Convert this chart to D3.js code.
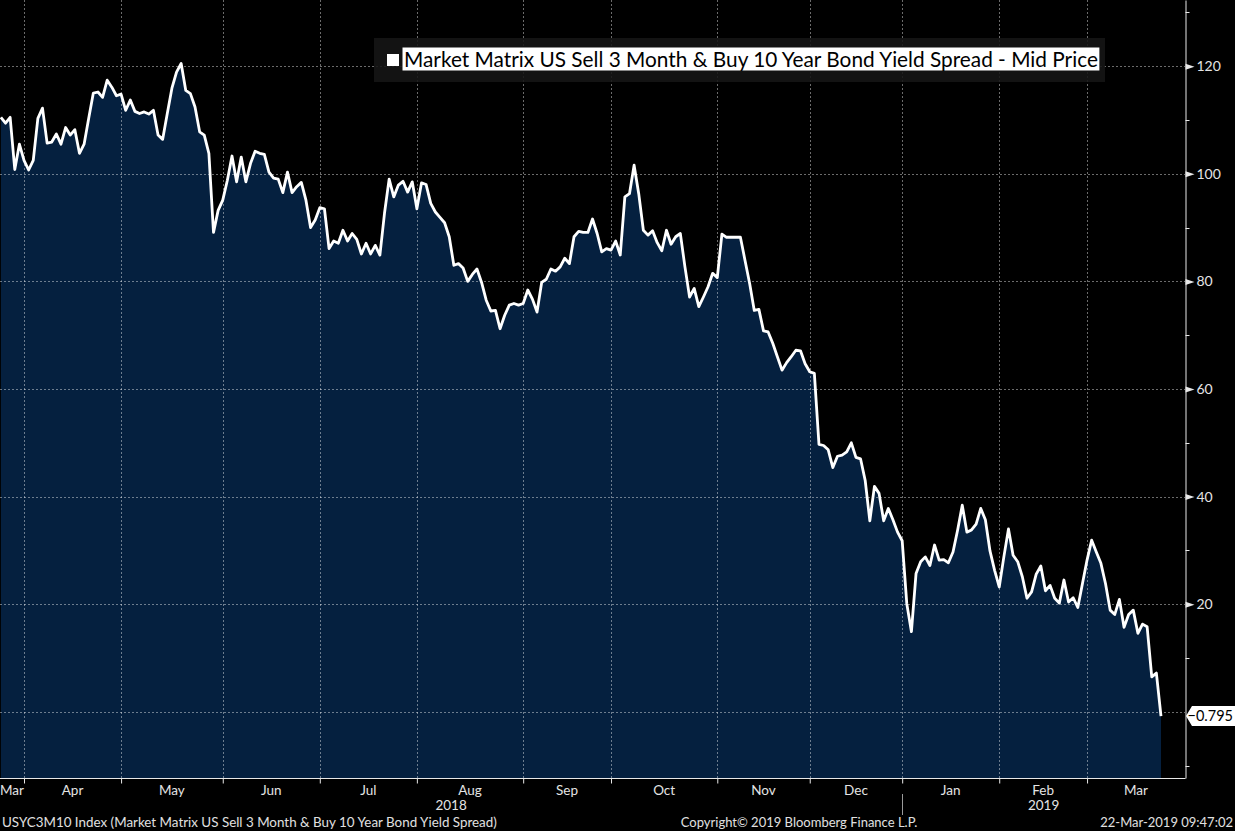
<!DOCTYPE html>
<html>
<head>
<meta charset="utf-8">
<script src="https://cdn.jsdelivr.net/npm/d3@7"></script>
<style>
  html, body { margin: 0; padding: 0; background: #000; }
  svg { display: block; }
  text { font-family: Lato, "DejaVu Sans", sans-serif; }
</style>
</head>
<body>
<svg width="1235" height="831"></svg>
<script>
// USYC3M10 daily closes, 22-Mar-2018 .. 22-Mar-2019 (bp)
const spread = [
  110.5, 109.4, 110.5, 100.8, 105.5, 102.5, 100.7, 102.5, 110.3, 112.2,
  105.7, 105.9, 107.4, 105.5, 108.6, 107.2, 108.2, 103.8, 105.5, 110.3,
  115.0, 115.2, 114.2, 117.4, 116.1, 114.5, 114.8, 111.8, 113.7, 111.6,
  111.2, 111.5, 111.1, 111.8, 107.2, 106.4, 111.2, 115.9, 118.9, 120.5,
  115.5, 114.9, 112.4, 107.8, 107.2, 103.8, 89.1, 93.2, 95.1, 98.8,
  103.3, 98.5, 103.1, 98.5, 101.9, 104.2, 103.8, 103.6, 100.3, 99.2,
  99.0, 96.5, 100.3, 96.5, 97.6, 98.4, 95.1, 90.0, 91.4, 93.7,
  93.5, 86.1, 87.5, 87.1, 89.5, 87.5, 88.9, 87.8, 85.1, 87.1,
  85.1, 86.7, 84.9, 92.7, 99.0, 95.7, 97.9, 98.6, 96.6, 98.5,
  93.5, 98.3, 98.0, 94.5, 92.9, 91.9, 90.9, 88.3, 83.0, 83.3,
  82.5, 80.0, 81.3, 82.3, 79.8, 76.5, 74.5, 74.6, 71.2, 73.7,
  75.6, 75.9, 75.6, 75.9, 78.4, 76.7, 74.3, 79.8, 80.4, 82.3,
  81.9, 82.7, 84.3, 83.3, 88.3, 89.3, 89.1, 89.1, 91.6, 88.9,
  85.5, 86.1, 85.8, 87.5, 84.9, 95.7, 96.3, 101.6, 96.3, 89.5,
  88.6, 89.4, 87.2, 85.7, 89.5, 86.9, 88.3, 88.9, 82.7, 77.1,
  78.7, 75.3, 77.1, 79.0, 81.5, 80.7, 88.8, 88.2, 88.2, 88.2,
  88.2, 83.9, 79.6, 74.6, 74.8, 70.8, 70.6, 68.5, 66.0, 63.5,
  64.9, 66.0, 67.2, 67.1, 64.7, 63.2, 62.9, 49.7, 49.5, 48.7,
  45.4, 47.5, 47.7, 48.3, 50.0, 47.3, 47.0, 43.0, 35.5, 41.9,
  40.6, 35.5, 37.8, 35.7, 33.4, 31.8, 20.1, 14.9, 25.7, 27.9,
  28.8, 27.2, 31.0, 28.2, 28.3, 27.7, 29.7, 33.8, 38.4, 33.4,
  33.8, 34.9, 37.8, 35.7, 29.9, 26.3, 23.2, 28.8, 34.0, 29.1,
  27.9, 25.1, 21.1, 22.3, 25.6, 27.1, 22.5, 23.5, 21.1, 20.2,
  24.5, 20.4, 21.2, 19.4, 23.8, 28.2, 31.9, 29.7, 27.6, 23.8,
  18.9, 18.1, 20.9, 15.7, 18.1, 18.9, 14.6, 16.3, 15.8, 6.5,
  7.2, -0.795
]

// first trading day of each month (index into spread)
const monthLabels = ["Mar", "Apr", "May", "Jun", "Jul", "Aug", "Sep", "Oct", "Nov", "Dec", "Jan", "Feb", "Mar"]
const monthStarts = [0, 5, 26, 48, 69, 90, 113, 132, 155, 175, 195, 216, 235]

const yearLabels = ["2018", "2019"]
const yearStarts = [0, 195]

const yMajor = [0, 20, 40, 60, 80, 100, 120]
const yMinor = [-10, 10, 30, 50, 70, 90, 110, 130]

const legendText = "Market Matrix US Sell 3 Month & Buy 10 Year Bond Yield Spread - Mid Price"
const footLeft = "USYC3M10 Index (Market Matrix US Sell 3 Month & Buy 10 Year Bond Yield Spread)"
const footMid = "Copyright\u00A9 2019 Bloomberg Finance L.P."
const footRight = "22-Mar-2019 09:47:02"

const width = 1235
const height = 831
const plotRight = 1185
const plotBottom = 778

const svg = d3.select("svg")

const x = d3.scaleLinear()
  .domain([0, spread.length - 1])
  .range([0.9, 1161])

const y = d3.scaleLinear()
  .domain([-12.3, 132.3])
  .range([plotBottom, 0])

// area under the curve
const area = d3.area()
  .x((d, i) => x(i))
  .y0(plotBottom)
  .y1(d => y(d))

svg.append("path")
  .datum(spread)
  .attr("d", area)
  .attr("fill", "#05203f")

// grid
const grid = svg.append("g")
  .attr("stroke", "#ffffff")
  .attr("stroke-opacity", 0.42)
  .attr("stroke-width", 1)
  .attr("stroke-dasharray", "2,2")

grid.selectAll(".hg")
  .data(yMajor)
  .enter()
  .append("line")
    .attr("x1", 0)
    .attr("x2", plotRight)
    .attr("y1", d => Math.round(y(d)) + 0.5)
    .attr("y2", d => Math.round(y(d)) + 0.5)

grid.selectAll(".vg")
  .data(monthStarts.slice(1))
  .enter()
  .append("line")
    .attr("x1", d => Math.round(x(d)) + 0.5)
    .attr("x2", d => Math.round(x(d)) + 0.5)
    .attr("y1", 0)
    .attr("y2", plotBottom)

// the line
const line = d3.line()
  .x((d, i) => x(i))
  .y(d => y(d))

svg.append("path")
  .datum(spread)
  .attr("d", line)
  .attr("fill", "none")
  .attr("stroke", "#ffffff")
  .attr("stroke-width", 2.8)
  .attr("stroke-linejoin", "round")

// right axis
const yAxis = svg.append("g")
  .attr("transform", `translate(${plotRight + 0.5},0)`)
  .call(d3.axisRight(y)
    .tickValues(yMajor.filter(d => d > 0))
    .tickSize(0)
    .tickSizeOuter(0)
    .tickPadding(11)
    .tickFormat(d3.format("d")))

yAxis.select(".domain").attr("stroke", "#e8e8e8")
yAxis.selectAll(".tick text")
  .attr("fill", "#e4e4e4")
  .style("font-size", "14px")

yAxis.selectAll(".tick")
  .append("path")
    .attr("d", "M0,-3L9,0L0,3Z")
    .attr("fill", "#e8e8e8")

yAxis.selectAll(".minor")
  .data(yMinor)
  .enter()
  .append("line")
    .attr("x1", 0)
    .attr("x2", 4)
    .attr("y1", d => Math.round(y(d)) + 0.5)
    .attr("y2", d => Math.round(y(d)) + 0.5)
    .attr("stroke", "#e8e8e8")

// bottom axis
const xAxis = svg.append("g")
  .attr("transform", `translate(0,${plotBottom + 0.5})`)
  .call(d3.axisBottom(x)
    .tickValues(monthStarts.slice(1))
    .tickSize(5)
    .tickSizeOuter(0)
    .tickFormat(""))

xAxis.select(".domain").attr("d", `M0,0H${plotRight + 0.5}`).attr("stroke", "#e8e8e8")
xAxis.selectAll(".tick line").attr("stroke", "#e8e8e8")

const monthEdges = monthStarts.map((d, i) => i === 0 ? 0 : x(d)).concat([plotRight])

svg.append("g")
  .selectAll("text")
  .data(monthLabels)
  .enter()
  .append("text")
    .attr("x", (d, i) => (monthEdges[i] + monthEdges[i + 1]) / 2)
    .attr("y", 795)
    .attr("text-anchor", "middle")
    .attr("fill", "#e4e4e4")
    .style("font-size", "13.5px")
    .text(d => d)

const yearEdges = yearStarts.map((d, i) => i === 0 ? 0 : x(d)).concat([plotRight])

svg.append("g")
  .selectAll("text")
  .data(yearLabels)
  .enter()
  .append("text")
    .attr("x", (d, i) => (yearEdges[i] + yearEdges[i + 1]) / 2)
    .attr("y", 810)
    .attr("text-anchor", "middle")
    .attr("fill", "#e4e4e4")
    .style("font-size", "13.5px")
    .text(d => d)

// year separator
svg.append("line")
  .attr("x1", Math.round(x(yearStarts[1])) + 0.5)
  .attr("x2", Math.round(x(yearStarts[1])) + 0.5)
  .attr("y1", 794)
  .attr("y2", 815)
  .attr("stroke", "#9a9a9a")

// legend
const legend = svg.append("g")

legend.append("rect")
  .attr("x", 374)
  .attr("y", 38)
  .attr("width", 731)
  .attr("height", 44)
  .attr("fill", "#161616")
  .attr("fill-opacity", 0.88)

legend.append("rect")
  .attr("x", 387)
  .attr("y", 54)
  .attr("width", 12)
  .attr("height", 12)
  .attr("fill", "#ffffff")

const highlight = legend.append("rect")
  .attr("fill", "#ffffff")

const legendLabel = legend.append("text")
  .attr("x", 404)
  .attr("y", 67)
  .attr("fill", "#000000")
  .style("font-size", "20.8px")
  .text(legendText)

const bb = legendLabel.node().getBBox()
highlight
  .attr("x", 402.5)
  .attr("y", 47.5)
  .attr("width", bb.width + 3)
  .attr("height", 23)

// last value tag
const last = spread[spread.length - 1]
const ly = y(last)

svg.append("path")
  .attr("d", `M${plotRight + 1},${ly} L${plotRight + 7},${ly - 10} H${width} V${ly + 10} H${plotRight + 7} Z`)
  .attr("fill", "#ffffff")

svg.append("text")
  .attr("x", 1233)
  .attr("y", ly + 5)
  .attr("text-anchor", "end")
  .attr("fill", "#000000")
  .style("font-size", "14.5px")
  .text(d3.format(".3f")(last))

// footer
const foot = svg.append("g")
  .attr("fill", "#e0e0e0")
  .style("font-size", "13px")

foot.append("text").attr("x", 2).attr("y", 826.5).style("font-size", "13.4px").text(footLeft)
foot.append("text").attr("x", 799).attr("y", 826.5).attr("text-anchor", "middle").text(footMid)
foot.append("text").attr("x", 1233).attr("y", 826.5).attr("text-anchor", "end").text(footRight)
</script>
</body>
</html>
